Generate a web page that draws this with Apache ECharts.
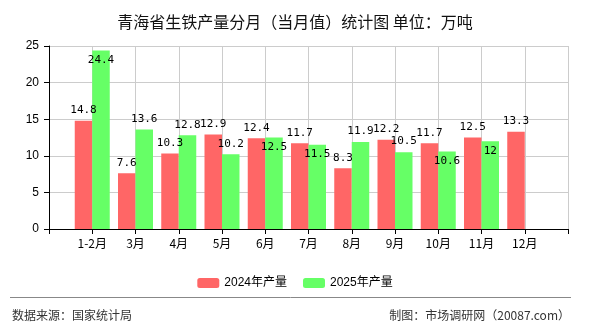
<!DOCTYPE html>
<html>
<head>
<meta charset="utf-8">
<script src="https://cdn.jsdelivr.net/npm/echarts@6/dist/echarts.min.js"></script>
<style>html,body{margin:0;padding:0;background:#fff}#c{width:590px;height:330px}</style>
</head>
<body>
<div id="c"></div>
<script>
const titleText = '青海省生铁产量分月（当月值）统计图 单位：万吨';
const categories = ['1-2月', '3月', '4月', '5月', '6月', '7月', '8月', '9月', '10月', '11月', '12月'];
const values2024 = [14.8, 7.6, 10.3, 12.9, 12.4, 11.7, 8.3, 12.2, 11.7, 12.5, 13.3];
const values2025 = [24.4, 13.6, 12.8, 10.2, 12.5, 11.5, 11.9, 10.5, 10.6, 12, null];
const seriesNames = ['2024年产量', '2025年产量'];
const yTicks = [0, 5, 10, 15, 20, 25];
const sourceText = '数据来源：国家统计局';
const creditText = '制图：市场调研网（20087.com）';

const labelFont = "'DejaVu Sans Mono', 'Noto Sans CJK SC', monospace";
const cjkFont = "'Noto Sans CJK SC', sans-serif";

// pad categories: blank slot before and after so bars sit on tick marks
const xData = [''].concat(categories, ['']);
function pad(arr) { return ['-'].concat(arr.map(v => v == null ? '-' : v), ['-']); }

const red = pad(values2024);
const green = pad(values2025).map((v, i) => {
  if (v === '-') return v;
  const r = red[i];
  const collide = (r !== '-' && Math.abs(v - r) < 1.6) || v > 23;
  return collide ? { value: v, label: { position: 'insideTop', distance: 4 } } : v;
});

const chart = echarts.init(document.getElementById('c'), null, { renderer: 'canvas' });
chart.setOption({
  animation: false,
  backgroundColor: '#ffffff',
  title: {
    text: titleText, left: 'center', top: 9,
    textStyle: { fontSize: 16, fontWeight: 'normal', color: '#111', fontFamily: cjkFont }
  },
  legend: {
    data: seriesNames, left: 'center', top: 272, itemWidth: 22, itemHeight: 10, itemGap: 16,
    textStyle: { fontSize: 12, color: '#000', fontFamily: "'Liberation Sans', 'Noto Sans CJK SC', sans-serif" }
  },
  grid: { left: 49, right: 22, top: 46, bottom: 101, containLabel: false },
  xAxis: {
    type: 'category', data: xData, boundaryGap: false,
    axisLine: { lineStyle: { color: '#000', width: 1 } },
    axisTick: { show: true, interval: 0, length: 5, lineStyle: { color: '#000' } },
    axisLabel: { interval: 0, margin: 8, color: '#000', fontSize: 12, fontFamily: cjkFont },
    splitLine: { show: true, interval: 0, lineStyle: { color: '#cccccc', width: 1 } }
  },
  yAxis: {
    type: 'value', min: yTicks[0], max: yTicks[yTicks.length - 1], interval: 5,
    axisLine: { show: true, lineStyle: { color: '#000', width: 1 } },
    axisTick: { show: true, length: 5, lineStyle: { color: '#000' } },
    axisLabel: { margin: 10, color: '#000', fontSize: 12, fontFamily: "'Liberation Sans', sans-serif" },
    splitLine: { show: true, lineStyle: { color: '#cccccc', width: 1 } }
  },
  series: [
    {
      name: seriesNames[0], type: 'bar', data: red, barWidth: 17.5, barGap: '0%',
      itemStyle: { color: '#ff6666' },
      label: { show: true, position: 'top', distance: 5, color: '#000', fontSize: 11, fontFamily: labelFont }
    },
    {
      name: seriesNames[1], type: 'bar', data: green, barWidth: 17.5, barGap: '0%',
      itemStyle: { color: '#66ff66' },
      label: { show: true, position: 'top', distance: 5, color: '#000', fontSize: 11, fontFamily: labelFont }
    }
  ],
  graphic: [
    { type: 'line', shape: { x1: 10, y1: 297.5, x2: 571, y2: 297.5 }, style: { stroke: '#888888', lineWidth: 1 }, silent: true },
    { type: 'text', left: 12, top: 309, style: { text: sourceText, fontSize: 12, fill: '#333', fontFamily: cjkFont } },
    { type: 'text', right: 20, top: 309, style: { text: creditText, fontSize: 12, fill: '#333', fontFamily: cjkFont } }
  ]
});
</script>
</body>
</html>
